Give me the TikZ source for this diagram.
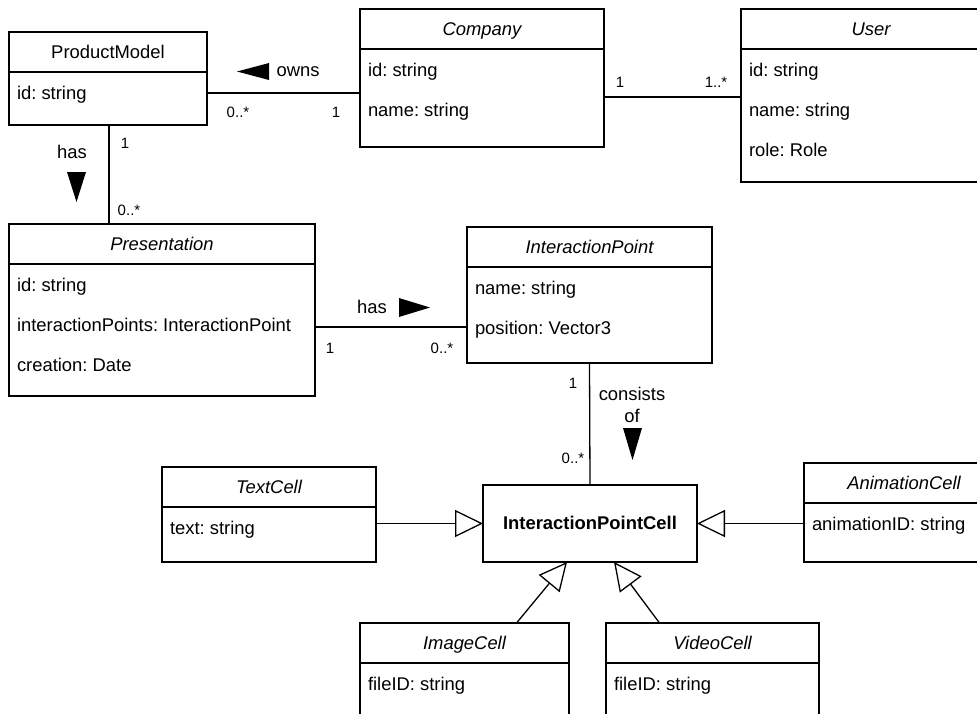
\documentclass[tikz,border=0pt]{standalone}
\usepackage{fontspec}
\setmainfont{Liberation Sans}
\usetikzlibrary{arrows.meta,calc}
\frenchspacing

% a UML class box: name, left, top, width, height, title style, title
\newcommand\umlclass[7]{%
  \node[box, minimum width=#4, minimum height=#5] (#1) at (#2,#3) {};
  \draw[edge] ($(#1.north west)+(0,40)$) -- ($(#1.north east)+(0,40)$);
  \node[lbl,#6] at ($(#1.north)+(0,22)$) {#7};
}
% an attribute line: class name, offset from top, text
\newcommand\umlattr[3]{%
  \node[lbl, anchor=west] at ($(#1.north west)+(8,#2+2)$) {#3};
}

\begin{document}
\begin{tikzpicture}[x=1pt,y=-1pt,
  every node/.style={inner sep=0pt, outer sep=0pt},
  box/.style={draw, line width=1.3pt, rectangle, anchor=north west},
  edge/.style={line width=1.3pt},
  lbl/.style={font=\fontsize{18.4}{22}\selectfont, text height=13pt, text depth=4pt},
  mult/.style={font=\fontsize{15}{18}\selectfont, text height=11pt, text depth=0pt},
  gen/.style={edge, -{Triangle[open, length=28pt, width=27pt]}},
  dirmark/.style={fill=black}
]
\useasboundingbox (0,0) rectangle (977,713);
\clip (0,0) rectangle (977,713);

% classes
\umlclass{pm}{9}{32}{198}{93}{}{ProductModel}
\umlattr{pm}{61}{id: string}

\umlclass{comp}{360}{9}{244}{138}{font=\fontsize{18.4}{22}\itshape}{Company}
\umlattr{comp}{61}{id: string}
\umlattr{comp}{101}{name: string}

\umlclass{user}{741}{9}{260}{173}{font=\fontsize{18.4}{22}\itshape}{User}
\umlattr{user}{61}{id: string}
\umlattr{user}{101}{name: string}
\umlattr{user}{141}{role: Role}

\umlclass{pres}{9}{224}{306}{172}{font=\fontsize{18.4}{22}\itshape}{Presentation}
\umlattr{pres}{61}{id: string}
\umlattr{pres}{101}{interactionPoints: InteractionPoint}
\umlattr{pres}{141}{creation: Date}

\umlclass{ip}{467}{227}{245}{136}{font=\fontsize{18.4}{22}\itshape}{InteractionPoint}
\umlattr{ip}{61}{name: string}
\umlattr{ip}{101}{position: Vector3}

\node[box, minimum width=214, minimum height=77] (ipc) at (483,485) {};
\node[lbl, font=\fontsize{18.4}{22}\bfseries] at ($(ipc.center)+(0,1)$) {InteractionPointCell};

\umlclass{txt}{162}{467}{214}{95}{font=\fontsize{18.4}{22}\itshape}{TextCell}
\umlattr{txt}{61}{text: string}

\umlclass{anim}{804}{463}{200}{99}{font=\fontsize{18.4}{22}\itshape}{AnimationCell}
\umlattr{anim}{61}{animationID: string}

\umlclass{img}{360}{623}{209}{120}{font=\fontsize{18.4}{22}\itshape}{ImageCell}
\umlattr{img}{61}{fileID: string}

\umlclass{vid}{606}{623}{213}{120}{font=\fontsize{18.4}{22}\itshape}{VideoCell}
\umlattr{vid}{61}{fileID: string}

% associations
\draw[edge] ($(pm.north east)+(0,61)$) -- ($(comp.north west)+(0,84)$);
\draw[edge] ($(comp.north east)+(0,88)$) -- ($(user.north west)+(0,88)$);
\draw[edge] ($(pm.south west)+(100,0)$) -- ($(pres.north west)+(100,0)$);
\draw[edge] ($(pres.north east)+(0,103)$) -- ($(ip.north west)+(0,100)$);
\draw[edge] (ip.south) -- (ipc.north);

% generalizations
\draw[gen] (txt.east |- ipc.west) -- (ipc.west);
\draw[gen] (anim.west |- ipc.east) -- (ipc.east);
\draw[gen] ($(img.north)+(52,0)$) -- ($(ipc.south)+(-23,0)$);
\draw[gen] ($(vid.north)+(-53,0)$) -- ($(ipc.south)+(24,0)$);

% association names and reading direction marks
\node[lbl] (owns) at (298,72) {owns};
\fill[dirmark] (237,71.5) -- (269,63) -- (269,80) -- cycle;

\node[lbl] (has1) at (72,154) {has};
\fill[dirmark] (76.5,202) -- (67,172) -- (86,172) -- cycle;

\node[lbl] (has2) at (372,309) {has};
\fill[dirmark] (430,307.5) -- (399,298) -- (399,317) -- cycle;

\node[lbl, align=center, text height=, text depth=] (cons) at (632,405) {consists\\of};
\fill[dirmark] (632.5,460) -- (623,428) -- (642,428) -- cycle;

% multiplicities
\node[mult] (m1) at (238,112) {0..*};
\node[mult] (m2) at (336,112) {1};
\node[mult] (m3) at (620,82) {1};
\node[mult] (m4) at (716,82) {1..*};
\node[mult] (m5) at (125,143) {1};
\node[mult] (m6) at (129,210) {0..*};
\node[mult] (m7) at (330,348) {1};
\node[mult] (m8) at (442,348) {0..*};
\node[mult] (m9) at (573,383) {1};
\node[mult] (m10) at (573,458) {0..*};
\end{tikzpicture}
\end{document}
